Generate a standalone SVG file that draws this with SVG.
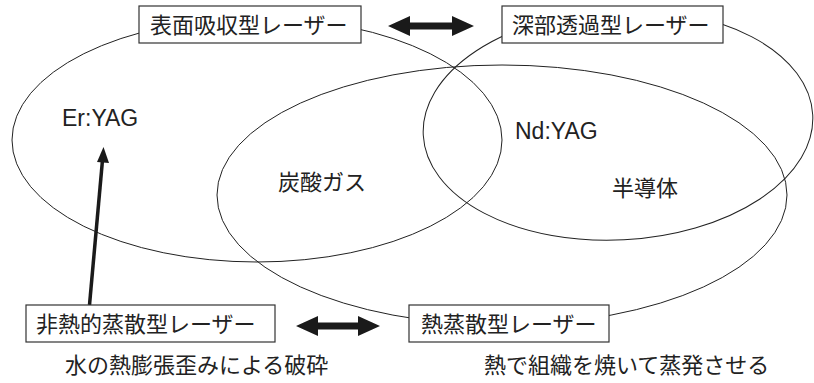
<svg xmlns="http://www.w3.org/2000/svg" width="814" height="383" viewBox="0 0 814 383">
<style>
.ell{fill:none;stroke:#222;stroke-width:1}
.box{fill:#fff;stroke:#333;stroke-width:1.2}
.jp{font-family:"Noto Sans CJK JP","Liberation Sans",sans-serif;font-size:22px;fill:#222}
.lat{font-family:"Liberation Sans","Noto Sans",sans-serif;font-size:23px;fill:#222}
.dbl{fill:#1a1a1a}
</style>
<rect width="814" height="383" fill="#fff"/>
<g id="sets">
<ellipse id="set-surface" class="ell" cx="257" cy="140" rx="245" ry="122"/>
<ellipse id="set-thermal" class="ell" cx="502" cy="195" rx="285" ry="130"/>
<ellipse id="set-deep" class="ell" cx="618" cy="125" rx="195" ry="115" transform="rotate(-3 618 125)"/>
</g>
<g id="connectors">
<polygon class="dbl" points="388,26 410,16 410,22.5 452,22.5 452,16 474,26 452,36 452,29.5 410,29.5 410,36"/>
<polygon class="dbl" points="296,326 318,316 318,322.5 358,322.5 358,316 380,326 358,336 358,329.5 318,329.5 318,336"/>
<line x1="89.5" y1="305" x2="102.5" y2="160" stroke="#1a1a1a" stroke-width="3.5"/>
<polygon class="dbl" points="103.5,147 109,163 97,162"/>
</g>
<g id="node-surface">
<rect class="box" x="139" y="6" width="222" height="37"/>
<text class="jp" x="150" y="33">表面吸収型レーザー</text>
</g>
<g id="node-deep">
<rect class="box" x="502" y="6" width="221" height="37"/>
<text class="jp" x="512" y="33">深部透過型レーザー</text>
</g>
<g id="node-nonthermal">
<rect class="box" x="26" y="305" width="249" height="37"/>
<text class="jp" x="36" y="332">非熱的蒸散型レーザー</text>
</g>
<g id="node-thermal">
<rect class="box" x="409" y="305" width="200" height="37"/>
<text class="jp" x="421" y="332">熱蒸散型レーザー</text>
</g>
<g id="labels">
<text class="lat" x="62" y="126">Er:YAG</text>
<text class="lat" x="515" y="139">Nd:YAG</text>
<text class="jp" x="278" y="190">炭酸ガス</text>
<text class="jp" x="612" y="196">半導体</text>
<text class="jp" x="65" y="373">水の熱膨張歪みによる破砕</text>
<text class="jp" x="484" y="373">熱で組織を焼いて蒸発させる</text>
</g>
</svg>
